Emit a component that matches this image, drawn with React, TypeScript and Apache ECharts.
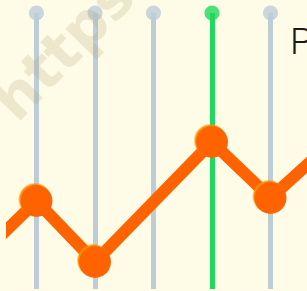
import React, { useEffect, useRef } from "react";
import * as echarts from "echarts";

// Line series data: [x position, value]
const lineX = [0, 1, 2, 4, 5, 6];
const lineValues = [33, 90, 29, 149, 93, 146];

// Vertical stems
const stemX = [1, 2, 3, 4, 5];
const stemColors = ["#bccdd8", "#bccdd8", "#bccdd8", "#1fd95e", "#bccdd8"];
const stemTop = 278;
const stemBottom = 2;

const titleText = "P";
const watermarkText = "https://echarts.apache.org";

export default function App() {
  const ref = useRef<HTMLDivElement>(null);
  useEffect(() => {
    document.body.style.margin = "0";
    const chart = echarts.init(ref.current!, undefined, { renderer: "svg" });
    const lineData = lineX.map((x, i) => [x, lineValues[i]]);
    chart.setOption({
      animation: false,
      backgroundColor: "#fefbe7",
      grid: { left: 12.5, right: 0, top: 0, bottom: 0 },
      xAxis: { type: "value", min: 0.59, max: 5.624, show: false },
      yAxis: { type: "value", min: 0, max: 291, show: false },
      graphic: [
        {
          type: "text",
          x: 290,
          y: 23,
          z: 10,
          style: {
            text: titleText,
            fill: "#1a1a1a",
            font: "300 37px Roboto",
          },
        },
        {
          type: "text",
          x: 3,
          y: 110,
          rotation: 0.8,
          z: 100,
          style: {
            text: watermarkText,
            fill: "rgba(170,155,110,0.2)",
            font: "bold 58px 'DejaVu Sans'",
            verticalAlign: "middle",
          },
        },
      ],
      series: [
        {
          type: "scatter",
          z: 1,
          symbolSize: 15,
          data: stemX.map((x, i) => ({
            value: [x, stemTop],
            itemStyle: { color: stemColors[i] },
          })),
          markLine: {
            silent: true,
            symbol: "none",
            label: { show: false },
            data: stemX.map((x, i) => [
              { coord: [x, stemTop], lineStyle: { color: stemColors[i], width: 5, type: "solid" } },
              { coord: [x, stemBottom] },
            ]),
          },
        },
        {
          type: "line",
          z: 5,
          data: lineData,
          symbol: "circle",
          symbolSize: 32,
          lineStyle: { color: "#ff6300", width: 12 },
          itemStyle: {
            color: "#ff6300",
            shadowColor: "#ff9000",
            shadowOffsetX: -1.5,
            shadowOffsetY: -1.5,
            shadowBlur: 0,
          },
        },
      ],
    });
    return () => chart.dispose();
  }, []);
  return <div ref={ref} style={{ width: 307, height: 291 }} />;
}
